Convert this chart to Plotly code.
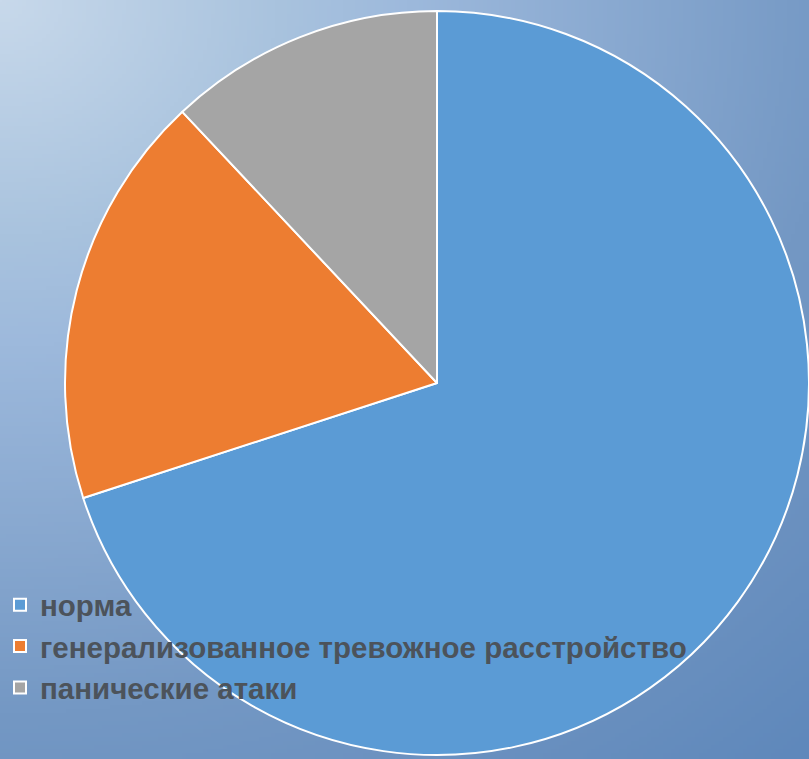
import zlib, struct, base64
import numpy as np
import plotly.graph_objects as go

# ---- data ----
labels = ["норма", "генерализованное тревожное расстройство", "панические атаки"]
values = [70, 18, 12]
colors = ["#5B9BD5", "#ED7D31", "#A5A5A5"]

W, H = 809, 759

# ---- background gradient image (sky-like) ----
def make_png(w, h):
    ys, xs = np.mgrid[0:h, 0:w]
    u = xs / (w - 1) * W
    v = ys / (h - 1) * H
    d = np.sqrt((u * 0.85) ** 2 + v ** 2) / np.sqrt((W * 0.85) ** 2 + H ** 2)
    stops = [0.0, 0.23, 0.34, 0.7, 1.0]
    r = np.interp(d, stops, [200, 169, 157, 116, 95])
    g = np.interp(d, stops, [217, 195, 185, 152, 136])
    b = np.interp(d, stops, [235, 222, 220, 196, 187])
    img = np.stack([r, g, b], axis=-1).astype(np.uint8)
    raw = b"".join(b"\x00" + img[i].tobytes() for i in range(h))
    def chunk(t, data):
        c = struct.pack(">I", len(data)) + t + data
        return c + struct.pack(">I", zlib.crc32(t + data) & 0xffffffff)
    png = b"\x89PNG\r\n\x1a\n"
    png += chunk(b"IHDR", struct.pack(">IIBBBBB", w, h, 8, 2, 0, 0, 0))
    png += chunk(b"IDAT", zlib.compress(raw, 9))
    png += chunk(b"IEND", b"")
    return "data:image/png;base64," + base64.b64encode(png).decode()

bg = make_png(202, 190)

cx, cy, R = 437, 383, 372
fig = go.Figure(go.Pie(
    labels=labels,
    values=values,
    sort=False,
    direction="clockwise",
    rotation=0,
    textinfo="none",
    hoverinfo="label+percent",
    marker=dict(colors=colors, line=dict(color="white", width=2)),
    domain=dict(x=[(cx - R) / W, min(1.0, (cx + R) / W)],
                y=[1 - (cy + R) / H, 1 - (cy - R) / H]),
))

fig.update_layout(
    width=W, height=H,
    margin=dict(l=0, r=0, t=0, b=0, autoexpand=False),
    paper_bgcolor="#8fb0d4",
    images=[dict(source=bg, xref="paper", yref="paper", x=0, y=1,
                 sizex=1, sizey=1, sizing="stretch", layer="below",
                 xanchor="left", yanchor="top")],
    showlegend=True,
    legend=dict(
        x=0, y=1 - 579 / H, xanchor="left", yanchor="top",
        bgcolor="rgba(0,0,0,0)",
        font=dict(family="Liberation Sans, Arial, sans-serif", size=29.5,
                  color="#4c535b", weight="bold"),
        tracegroupgap=0,
    ),
)

fig.write_html("out.html", config={"displayModeBar": False})
